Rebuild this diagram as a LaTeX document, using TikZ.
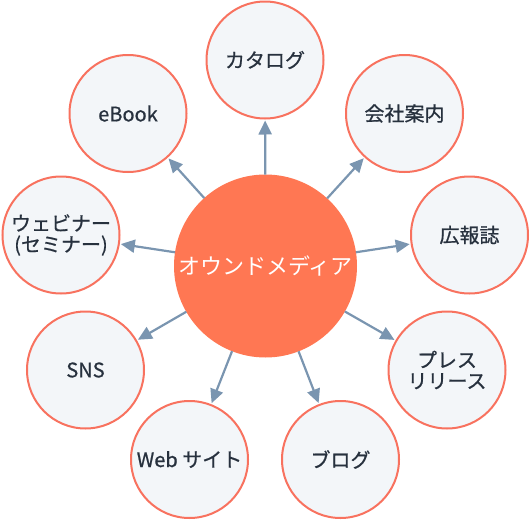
\documentclass[tikz,border=0pt]{standalone}
\usepackage{fontspec}
\setmainfont{Noto Sans CJK JP}
\newfontfamily\leaffont{Noto Sans CJK JP}[FakeBold=0.7]
\usetikzlibrary{arrows.meta}
\definecolor{hubfill}{HTML}{FF7753}
\definecolor{ringline}{HTML}{F8725F}
\definecolor{ringfill}{HTML}{F3F6F9}
\definecolor{inktext}{HTML}{27313E}
\definecolor{arrowcol}{HTML}{7A95B0}
\begin{document}
\begin{tikzpicture}[x=1pt,y=-1pt,
  hub/.style={circle,fill=hubfill,minimum size=183pt,inner sep=0pt,outer sep=0pt,
    text=white,font=\fontsize{22}{24}\selectfont},
  leaf/.style={circle,draw=ringline,line width=2pt,fill=ringfill,minimum size=117pt,
    inner sep=0pt,outer sep=0pt,text=inktext,align=center,
    font=\leaffont\fontsize{20}{21}\selectfont},
  arr/.style={draw=arrowcol,line width=2.2pt,shorten >=2pt,
    -{Triangle[length=14pt,width=13pt]}}]
\useasboundingbox (0,0) rectangle (531,520);
\node[hub] (hub) at (265.5,266) {\raisebox{2pt}{オウンドメディア}};
\node[leaf] (cat) at (265,60) {カタログ};
\node[leaf] (com) at (404.5,113.5) {会社案内};
\node[leaf] (pr) at (469.5,235) {広報誌};
\node[leaf] (press) at (447,370) {プレス\\リリース};
\node[leaf] (blog) at (340.5,459.5) {ブログ};
\node[leaf] (web) at (189.5,459.5) {Web サイト};
\node[leaf] (sns) at (85.5,370) {SNS};
\node[leaf] (webi) at (61,235) {ウェビナー\\(セミナー)};
\node[leaf] (ebook) at (128,113.5) {eBook};
\foreach \t in {cat,com,pr,press,blog,web,sns,webi,ebook}
  \draw[arr] (hub) -- (\t);
\end{tikzpicture}
\end{document}
